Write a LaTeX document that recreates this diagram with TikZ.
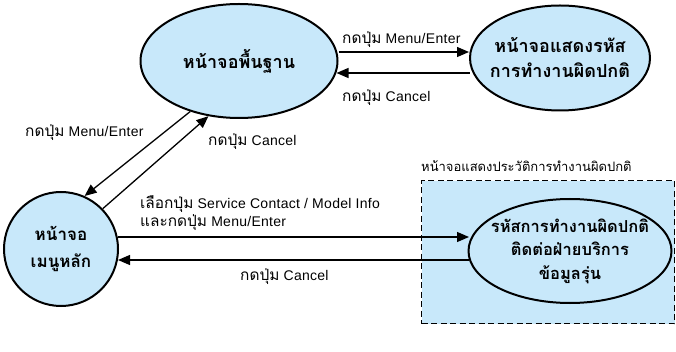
\documentclass[tikz,border=0pt]{standalone}
\usepackage{fontspec}
\setmainfont{Liberation Sans}[LetterSpace=2]
\newfontfamily\thai[Script=Thai]{Loma}
\newfontfamily\thl[Script=Thai,Scale=1.1]{Loma}
\usetikzlibrary{arrows.meta,shapes.geometric,calc}
\definecolor{statefill}{RGB}{200,232,250}
\tikzset{
  state/.style={ellipse, draw=black, line width=2pt, fill=statefill,
    inner xsep=-20pt, inner ysep=-8pt, align=center},
  flow/.style={line width=1.3pt, -{Triangle[length=12pt,width=10pt]}},
  lbl/.style={font=\fontsize{14}{18}\selectfont, inner sep=0pt, align=left},
  group/.style={draw=black, line width=1.4pt, dash pattern=on 6pt off 3.5pt,
    fill=statefill, inner sep=0pt}
}
\begin{document}
\begin{tikzpicture}[x=1pt,y=-1pt]
\useasboundingbox (0,0) rectangle (676,352);

% group of the history screens
\node[group, minimum width=253pt, minimum height=143pt, anchor=north west] (hist) at (421,180) {};
\node[anchor=west, inner sep=0pt, font=\thai\fontsize{13}{16}\selectfont] (histlbl) at (421,166) {หน้าจอแสดงประวัติการทำงานผิดปกติ};

% states
\node[state, minimum width=197pt, minimum height=114pt, font=\thai\bfseries\fontsize{18}{25}\selectfont] (base) at (239,61) {หน้าจอพื้นฐาน};
\node[state, minimum width=180pt, minimum height=105pt, font=\thai\bfseries\fontsize{18}{25}\selectfont] (err) at (560,58) {หน้าจอแสดงรหัส\\การทำงานผิดปกติ};
\node[state, circle, inner sep=0pt, minimum size=114pt, font=\thai\bfseries\fontsize{17}{27}\selectfont] (menu) at (61,249) {หน้าจอ\\เมนูหลัก};
\node[state, minimum width=203pt, minimum height=104pt, font=\thai\bfseries\fontsize{16.5}{23.5}\selectfont] (info) at (570,251) {รหัสการทำงานผิดปกติ\\ติดต่อฝ่ายบริการ\\ข้อมูลรุ่น};

% base <-> error code screen
\coordinate (t1) at ($(base.east)+(0,-9)$);
\draw[flow] (t1) -- (err.west |- t1);
\coordinate (t2) at ($(base.east)+(-2,12)$);
\draw[flow] ($(err.west |- t2)+(0.5,0)$) -- (t2);
\node[lbl, anchor=west] (l1) at (342,40) {{\thl กดปุ่ม} Menu/Enter};
\node[lbl, anchor=west] (l2) at (342,98) {{\thl กดปุ่ม} Cancel};

% base <-> main menu
\draw[flow] (base.226) -- (menu.66);
\draw[flow] (menu.44) -- (base.241);
\node[lbl, anchor=west] (l3) at (25,133) {{\thl กดปุ่ม} Menu/Enter};
\node[lbl, anchor=west] (l4) at (208,142) {{\thl กดปุ่ม} Cancel};

% main menu <-> history screens
\coordinate (b1) at ($(menu.east)+(-1,-12)$);
\draw[flow] (b1) -- ($(info.west |- b1)+(1.5,0)$);
\coordinate (b2) at ($(menu.east)+(-1,11)$);
\draw[flow] ($(info.west |- b2)+(1.5,0)$) -- (b2);
\node[lbl, anchor=west] (l5) at (140,213) {{\thl เลือกปุ่ม} Service Contact / Model Info\\{\thl และกดปุ่ม} Menu/Enter};
\node[lbl, anchor=west] (l6) at (240,277) {{\thl กดปุ่ม} Cancel};
\end{tikzpicture}
\end{document}
